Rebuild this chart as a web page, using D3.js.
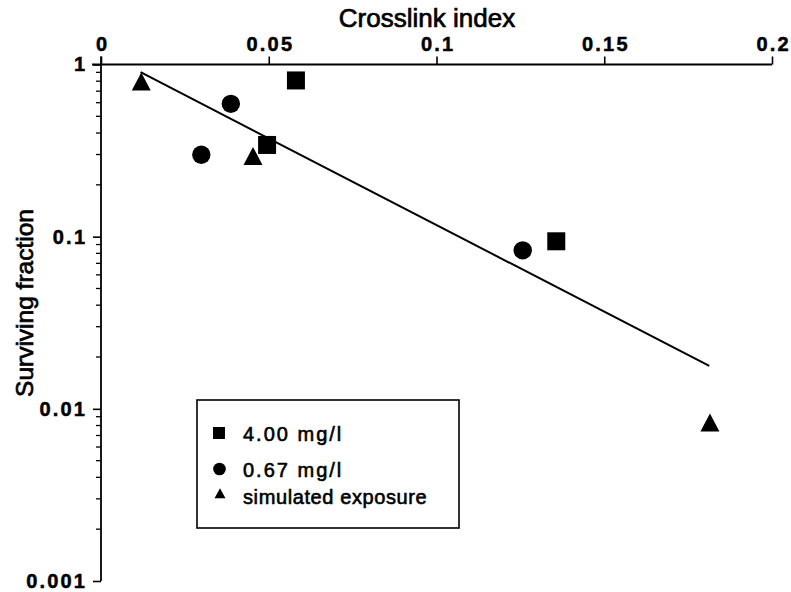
<!DOCTYPE html>
<html>
<head>
<meta charset="utf-8">
<script src="https://cdn.jsdelivr.net/npm/d3@7"></script>
<style>
  html, body { margin: 0; padding: 0; background: #fff; }
  svg { display: block; }
  text { font-family: "Liberation Sans", Arial, sans-serif; fill: #000; }
</style>
</head>
<body>
<svg id="chart" width="791" height="592"></svg>
<script>
// ---- data ----
const xTicks = [0, 0.05, 0.1, 0.15, 0.2];
const xTickLabels = ["0", "0.05", "0.1", "0.15", "0.2"];
const yTicks = [1, 0.1, 0.01, 0.001];
const yTickLabels = ["1", "0.1", "0.01", "0.001"];

const seriesNames = ["4.00 mg/l", "0.67 mg/l", "simulated exposure"];
const squareX = [0.0581, 0.0495, 0.1357];
const squareY = [0.808, 0.341, 0.094];
const circleX = [0.0387, 0.0299, 0.1257];
const circleY = [0.591, 0.299, 0.0833];
const triangleX = [0.0120, 0.0453, 0.1815];
const triangleY = [0.765, 0.283, 0.0080];

const fitX = [0.0118, 0.1813];
const fitY = [0.902, 0.01775];

// ---- layout ----
const svg = d3.select("#chart");
const mLeft = 101, mRight = 772, mTop = 64.5, mBottom = 581;

const x = d3.scaleLinear().domain([0, 0.2]).range([mLeft, mRight]);
const y = d3.scaleLog().domain([1, 0.001]).range([mTop, mBottom]);

const heavy = (sel, w) => sel.style("stroke", "#000").style("stroke-width", (w || 0.6) + "px");
const LS = 2.2;

// top x axis
const xAxis = d3.axisTop(x).tickValues(xTicks).tickSize(8).tickPadding(6)
  .tickFormat((d, i) => xTickLabels[i]);
const gx = svg.append("g").attr("transform", `translate(0,${mTop})`).call(xAxis);
gx.select(".domain").attr("d", `M${mLeft - 9},0H${mRight}`).attr("stroke", "#000").attr("stroke-width", 1.8);
gx.selectAll(".tick line").attr("stroke", "#000").attr("stroke-width", 1.6);
gx.selectAll(".tick text")
  .style("font-size", "20px").style("font-weight", "bold")
  .style("letter-spacing", LS + "px")
  .attr("dx", LS / 2)
  .call(heavy, 0.5);

// left y axis (major ticks)
const yAxis = d3.axisLeft(y).tickValues(yTicks).tickSize(8).tickPadding(8)
  .tickFormat((d, i) => yTickLabels[i]);
const gy = svg.append("g").attr("transform", `translate(${mLeft},0)`).call(yAxis);
gy.select(".domain").attr("d", `M0,${mTop - 8}V${mBottom}`).attr("stroke", "#000").attr("stroke-width", 1.8);
gy.selectAll(".tick line").attr("stroke", "#000").attr("stroke-width", 1.6);
gy.selectAll(".tick text")
  .style("font-size", "20px").style("font-weight", "bold")
  .style("letter-spacing", LS + "px")
  .attr("dx", LS)
  .call(heavy, 0.5);

// minor ticks on y
const minor = [];
for (let e = 0; e < 3; e++) {
  for (let m = 2; m <= 9; m++) minor.push(m * Math.pow(10, -e - 1));
}
svg.append("g").selectAll("line").data(minor).join("line")
  .attr("x1", mLeft - 5).attr("x2", mLeft)
  .attr("y1", d => y(d)).attr("y2", d => y(d))
  .attr("stroke", "#000").attr("stroke-width", 1.3);

// axis titles
svg.append("text").attr("x", 427).attr("y", 27).attr("text-anchor", "middle")
  .style("font-size", "26px").call(heavy, 0.7).text("Crosslink index");
svg.append("text").attr("transform", "translate(33,303) rotate(-90)").attr("text-anchor", "middle")
  .style("font-size", "24.5px").call(heavy, 0.7).text("Surviving fraction");

// regression line
const line = d3.line().x(d => x(d[0])).y(d => y(d[1]));
svg.append("path").datum(fitX.map((v, i) => [v, fitY[i]]))
  .attr("d", line).attr("fill", "none").attr("stroke", "#000").attr("stroke-width", 2);

// markers
function triPath(w, h) {
  // centroid at origin
  return `M0,${-2 * h / 3}L${w / 2},${h / 3}L${-w / 2},${h / 3}Z`;
}
svg.append("g").selectAll("rect").data(squareX.map((v, i) => [v, squareY[i]])).join("rect")
  .attr("x", d => x(d[0]) - 9).attr("y", d => y(d[1]) - 9)
  .attr("width", 18).attr("height", 18).attr("fill", "#000");
svg.append("g").selectAll("circle").data(circleX.map((v, i) => [v, circleY[i]])).join("circle")
  .attr("cx", d => x(d[0])).attr("cy", d => y(d[1])).attr("r", 9.2).attr("fill", "#000");
svg.append("g").selectAll("path").data(triangleX.map((v, i) => [v, triangleY[i]])).join("path")
  .attr("transform", d => `translate(${x(d[0])},${y(d[1])})`)
  .attr("d", triPath(19, 18)).attr("fill", "#000");

// legend
const lg = svg.append("g");
lg.append("rect").attr("x", 197).attr("y", 400).attr("width", 262).attr("height", 128)
  .attr("fill", "#fff").attr("stroke", "#000").attr("stroke-width", 1.6);
const legY = [433, 469, 496];
lg.append("rect").attr("x", 213).attr("y", legY[0] - 6).attr("width", 12).attr("height", 12).attr("fill", "#000");
lg.append("circle").attr("cx", 219.5).attr("cy", legY[1]).attr("r", 6.3).attr("fill", "#000");
lg.append("path").attr("transform", `translate(220,${legY[2] - 1})`).attr("d", triPath(11, 10)).attr("fill", "#000");
lg.selectAll("text.leg").data(seriesNames).join("text").attr("class", "leg")
  .attr("x", 243).attr("y", (d, i) => legY[i] + 8)
  .style("font-size", "20px")
  .style("letter-spacing", (d, i) => i < 2 ? "2px" : "0.6px")
  .call(heavy, 0.6)
  .text(d => d);
</script>
</body>
</html>
